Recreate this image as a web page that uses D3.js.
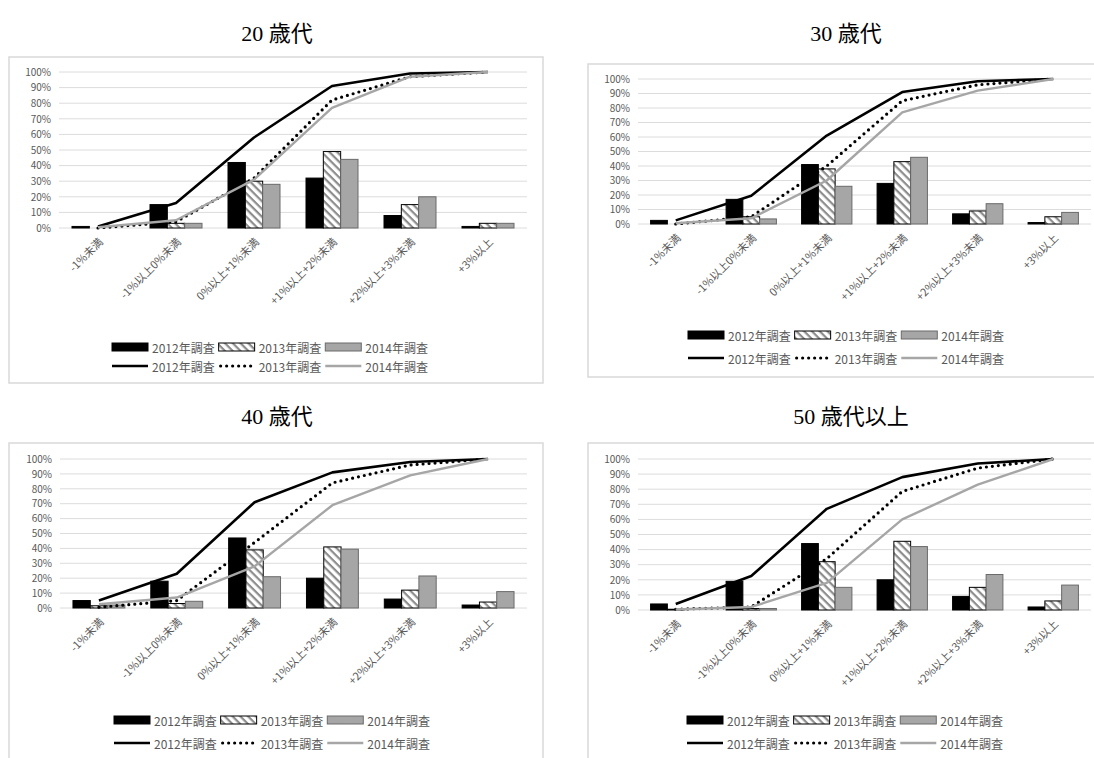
<!DOCTYPE html>
<html lang="ja">
<head>
<meta charset="utf-8">
<script src="https://cdn.jsdelivr.net/npm/d3@7"></script>
<style>
  html, body { margin: 0; padding: 0; background: #fff; }
  svg { display: block; }
  .tick-label { font-family: "Noto Sans CJK JP", "Noto Sans", sans-serif; fill: #595959; }
  .panel-title { font-family: "Liberation Serif", "DejaVu Serif", "Noto Sans CJK JP", serif; fill: #000; }
</style>
</head>
<body>
<svg id="chart" width="1094" height="758"></svg>
<script>
// Categories of wage-growth expectation
const categories = ["-1%未満", "-1%以上0%未満", "0%以上+1%未満", "+1%以上+2%未満", "+2%以上+3%未満", "+3%以上"];
const surveyYears = ["2012年調査", "2013年調査", "2014年調査"];
const panelTitles = ["20 歳代", "30 歳代", "40 歳代", "50 歳代以上"];
const yTickValues = [0, 10, 20, 30, 40, 50, 60, 70, 80, 90, 100];

// Share of respondents per category (%), one row per survey year
const share20s = [
  [1, 15, 42, 32, 8, 1],
  [0, 3, 30, 49, 15, 3],
  [0, 3, 28, 44, 20, 3]
];
const share30s = [
  [2.5, 17, 41, 28, 7, 1],
  [0, 5, 38, 43, 9, 5],
  [0, 3.5, 26, 46, 14, 8]
];
const share40s = [
  [5, 18, 47, 20, 6, 2],
  [1.5, 3, 39, 41, 12, 4],
  [2, 4.5, 21, 39.5, 21.5, 11]
];
const share50s = [
  [4, 19, 44, 20, 9, 2],
  [0.5, 1, 32, 45.5, 15, 6],
  [0, 1, 15, 42, 23.5, 16.5]
];

// Cumulative share (%), one row per survey year
const cumulative20s = [
  [1, 16, 58, 91, 99, 100],
  [0, 4, 32, 82, 97, 100],
  [0.5, 5, 31, 77, 97, 100]
];
const cumulative30s = [
  [2.5, 19.5, 61, 91, 98.5, 100],
  [0, 5, 40, 85, 96, 100],
  [0.5, 4, 30, 77, 92, 100]
];
const cumulative40s = [
  [5, 23, 71, 91, 98, 100],
  [0.5, 5, 44, 84, 96, 100],
  [2.5, 7, 28, 69, 89, 100]
];
const cumulative50s = [
  [4, 22.5, 67, 88, 97, 100],
  [0.5, 2, 34, 78.5, 94, 100],
  [0.3, 2, 18, 60, 83, 100]
];

// Panel layout
const panels = [
  { title: panelTitles[0], share: share20s, cum: cumulative20s,
    box: [9, 57, 543, 383], plot: [59, 72, 527, 228], titlePos: [277, 33], legend: [112, 347, 366] },
  { title: panelTitles[1], share: share30s, cum: cumulative30s,
    box: [588, 64, 1120, 377], plot: [638, 79, 1091, 224], titlePos: [846, 33], legend: [688, 335, 358] },
  { title: panelTitles[2], share: share40s, cum: cumulative40s,
    box: [9, 443, 543, 820], plot: [60, 459, 527, 608], titlePos: [277, 416], legend: [114, 720, 743] },
  { title: panelTitles[3], share: share50s, cum: cumulative50s,
    box: [588, 443, 1120, 820], plot: [638, 459, 1091, 610], titlePos: [851, 416], legend: [687, 720, 743] }
];

const barFill = ["#000000", "url(#hatch)", "#a6a6a6"];
const barStroke = ["#000000", "#000000", "#6a6a6a"];
const lineStyle = [
  { stroke: "#000000", width: 2.6, dash: null },
  { stroke: "#000000", width: 3.2, dash: "0,6" },
  { stroke: "#a6a6a6", width: 2.4, dash: null }
];

const svg = d3.select("#chart");

// Diagonal hatch used for the 2013 bars
const defs = svg.append("defs");
const pat = defs.append("pattern")
  .attr("id", "hatch")
  .attr("patternUnits", "userSpaceOnUse")
  .attr("width", 5.5).attr("height", 5.5)
  .attr("patternTransform", "rotate(45)");
pat.append("rect").attr("width", 5.5).attr("height", 5.5).attr("fill", "#fff");
pat.append("rect").attr("x", 0).attr("y", 0).attr("width", 5.5).attr("height", 2.2).attr("fill", "#8c8c8c");

panels.forEach(p => {
  const g = svg.append("g");
  const [bx0, by0, bx1, by1] = p.box;
  const [px0, py0, px1, py1] = p.plot;

  // Panel frame
  g.append("rect")
    .attr("x", bx0).attr("y", by0)
    .attr("width", bx1 - bx0).attr("height", by1 - by0)
    .attr("fill", "none").attr("stroke", "#d9d9d9").attr("stroke-width", 1.5);

  // Title
  g.append("text").attr("class", "panel-title")
    .attr("x", p.titlePos[0]).attr("y", p.titlePos[1])
    .attr("text-anchor", "middle").attr("dominant-baseline", "central")
    .attr("font-size", 22)
    .text(p.title);

  const x = d3.scaleBand().domain(categories).range([px0, px1]).paddingInner(0).paddingOuter(0);
  const xi = d3.scaleBand().domain(surveyYears).range([0, x.bandwidth()]).paddingInner(0).paddingOuter(0.75);
  const y = d3.scaleLinear().domain([0, 100]).range([py1, py0]);

  // Gridlines
  g.append("g").selectAll("line").data(yTickValues).join("line")
    .attr("x1", px0).attr("x2", px1)
    .attr("y1", d => y(d)).attr("y2", d => y(d))
    .attr("stroke", "#dcdcdc").attr("stroke-width", 1);

  // Y axis labels
  const yAxis = d3.axisLeft(y).tickValues(yTickValues).tickFormat(d => d + "%").tickSize(0).tickPadding(8);
  const ya = g.append("g").attr("transform", `translate(${px0},0)`).call(yAxis);
  ya.select(".domain").remove();
  ya.selectAll("text").attr("class", "tick-label").attr("font-size", 10).attr("fill", "#595959");

  // X axis category labels
  const xa = g.append("g");
  xa.selectAll("text").data(categories).join("text")
    .attr("class", "tick-label")
    .attr("font-size", 11)
    .attr("text-anchor", "end")
    .attr("transform", d => `translate(${x(d) + x.bandwidth() / 2 + 3},${py1 + 12}) rotate(-45)`)
    .attr("dy", "0.35em")
    .text(d => d);

  // Bars
  surveyYears.forEach((yr, i) => {
    g.append("g").selectAll("rect").data(p.share[i]).join("rect")
      .attr("x", (d, k) => x(categories[k]) + xi(yr))
      .attr("y", d => y(d))
      .attr("width", xi.bandwidth())
      .attr("height", d => y(0) - y(d))
      .attr("fill", barFill[i])
      .attr("stroke", barStroke[i])
      .attr("stroke-width", 1);
  });

  // Cumulative lines
  const line = d3.line()
    .x((d, k) => x(categories[k]) + x.bandwidth() / 2)
    .y(d => y(d));
  surveyYears.forEach((yr, i) => {
    const s = lineStyle[i];
    g.append("path").datum(p.cum[i])
      .attr("d", line)
      .attr("fill", "none")
      .attr("stroke", s.stroke)
      .attr("stroke-width", s.width)
      .attr("stroke-linecap", s.dash ? "round" : "butt")
      .attr("stroke-linejoin", "round")
      .attr("stroke-dasharray", s.dash);
  });

  // Legend: bar row and line row
  const [lx, ly1, ly2] = p.legend;
  [ly1, ly2].forEach((ly, row) => {
    let cx = lx;
    surveyYears.forEach((yr, i) => {
      if (row === 0) {
        g.append("rect").attr("x", cx).attr("y", ly - 4).attr("width", 36).attr("height", 8)
          .attr("fill", barFill[i]).attr("stroke", barStroke[i]).attr("stroke-width", 1);
      } else {
        const s = lineStyle[i];
        g.append("line").attr("x1", cx + (s.dash ? 2 : 0)).attr("x2", cx + 36).attr("y1", ly).attr("y2", ly)
          .attr("stroke", s.stroke).attr("stroke-width", s.width)
          .attr("stroke-linecap", s.dash ? "round" : "butt")
          .attr("stroke-dasharray", s.dash);
      }
      const t = g.append("text").attr("class", "tick-label")
        .attr("x", cx + 40).attr("y", ly)
        .attr("dominant-baseline", "central")
        .attr("font-size", 12)
        .text(yr);
      cx += 40 + t.node().getComputedTextLength() + 4;
    });
  });
});
</script>
</body>
</html>
